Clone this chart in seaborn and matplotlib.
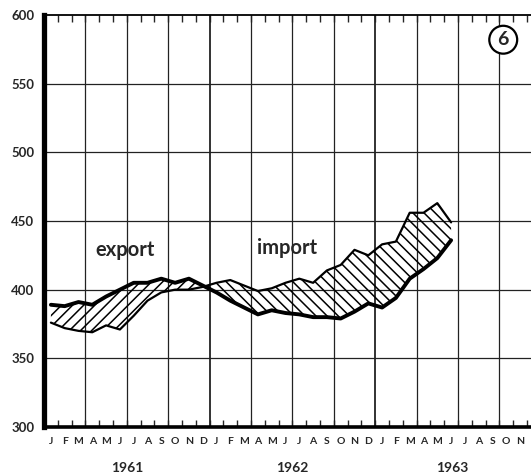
import numpy as np
import pandas as pd
import matplotlib
matplotlib.use("Agg")
import matplotlib.pyplot as plt
import seaborn as sns

# ---- data (monthly, Jan 1961 .. Jun 1963) ----
months_idx = list(range(30))
export = [389, 388, 391, 389, 395, 400, 405, 405, 408, 405, 408, 403,
          398, 392, 387, 382, 385, 383, 382, 380, 380, 379, 384, 390,
          387, 394, 408, 415, 423, 436]
imports = [376, 372, 370, 369, 374, 371, 381, 392, 398, 400, 400, 402,
           405, 407, 403, 399, 401, 405, 408, 405, 414, 418, 429, 425,
           433, 435, 456, 456, 463, 449]
month_letters = list("JFMAMJJASOND") * 3
years = ["1961", "1962", "1963"]
yticks = [300, 350, 400, 450, 500, 550, 600]

sns.set_style("white")
plt.rcParams["font.family"] = ["Lato", "DejaVu Sans"]
plt.rcParams["hatch.linewidth"] = 1.1

df = pd.DataFrame({"m": [m + 0.5 for m in months_idx],
                   "export": export, "import": imports})

W, H = 531, 473
fig = plt.figure(figsize=(W / 100, H / 100), dpi=100)
left, right, bottom, top = 44, 531, 427, 15
ax = fig.add_axes([left / W, (H - bottom) / H, (right - left) / W, (bottom - top) / H])
ax.set_xlim(0, (right - left) / 13.8)
ax.set_ylim(300, 600)

# grid
for v in [350, 400, 450, 500, 550]:
    ax.axhline(v, color="#222222", lw=0.9, zorder=1)
for q in range(3, 36, 3):
    ax.axvline(q, color="#222222", lw=1.3 if q % 12 == 0 else 0.9, zorder=1)

x = df["m"].to_numpy()
e = df["export"].to_numpy(float)
i = df["import"].to_numpy(float)
ax.fill_between(x, e, i, where=e >= i, interpolate=True, facecolor="none",
                edgecolor="black", hatch="///", lw=0, zorder=2)
ax.fill_between(x, e, i, where=i >= e, interpolate=True, facecolor="none",
                edgecolor="black", hatch="\\\\\\", lw=0, zorder=2)

sns.lineplot(data=df, x="m", y="import", ax=ax, color="black", lw=1.6, zorder=3)
sns.lineplot(data=df, x="m", y="export", ax=ax, color="black", lw=2.8, zorder=4)

ax.text(5.9, 429, "export", fontsize=14.5, fontweight="bold", ha="center", va="center")
ax.text(17.6, 430, "import", fontsize=14.5, fontweight="bold", ha="center", va="center")

# circled number
ax.text(0.943, 0.94, "6", transform=ax.transAxes, fontsize=14, fontweight="bold",
        ha="center", va="center",
        bbox=dict(boxstyle="circle,pad=0.28", fc="white", ec="black", lw=1.6), zorder=6)

# spines
for s in ["left", "bottom", "top", "right"]:
    ax.spines[s].set_color("black")
ax.spines["left"].set_linewidth(3.8)
ax.spines["bottom"].set_linewidth(2.6)
ax.spines["top"].set_linewidth(1.3)
ax.spines["right"].set_visible(False)

# y ticks
ax.set_yticks(yticks)
ax.set_yticklabels([str(t) for t in yticks], fontsize=9.5, fontweight="bold")
ax.tick_params(axis="y", length=0, pad=7)

# x ticks: month boundaries (ticks) and month centres (labels)
ax.set_xticks(np.arange(0, 36))
ax.set_xticklabels([])
ax.tick_params(axis="x", which="major", direction="in", length=5, width=1,
               top=True, bottom=True)
ax.set_xticks(np.arange(0, 35) + 0.5, minor=True)
ax.set_xticklabels(month_letters[:35], minor=True, fontsize=7.5, fontweight="bold")
ax.tick_params(axis="x", which="minor", length=0, pad=7)
ax.set_xlabel("")
ax.set_ylabel("")

for k, yr in enumerate(years):
    ax.text(6 + 12 * k - (0.4 if k == 2 else 0), -0.1, yr, transform=ax.get_xaxis_transform(),
            ha="center", va="center", fontsize=10, fontweight="bold")

fig.savefig("out.png", dpi=100)
